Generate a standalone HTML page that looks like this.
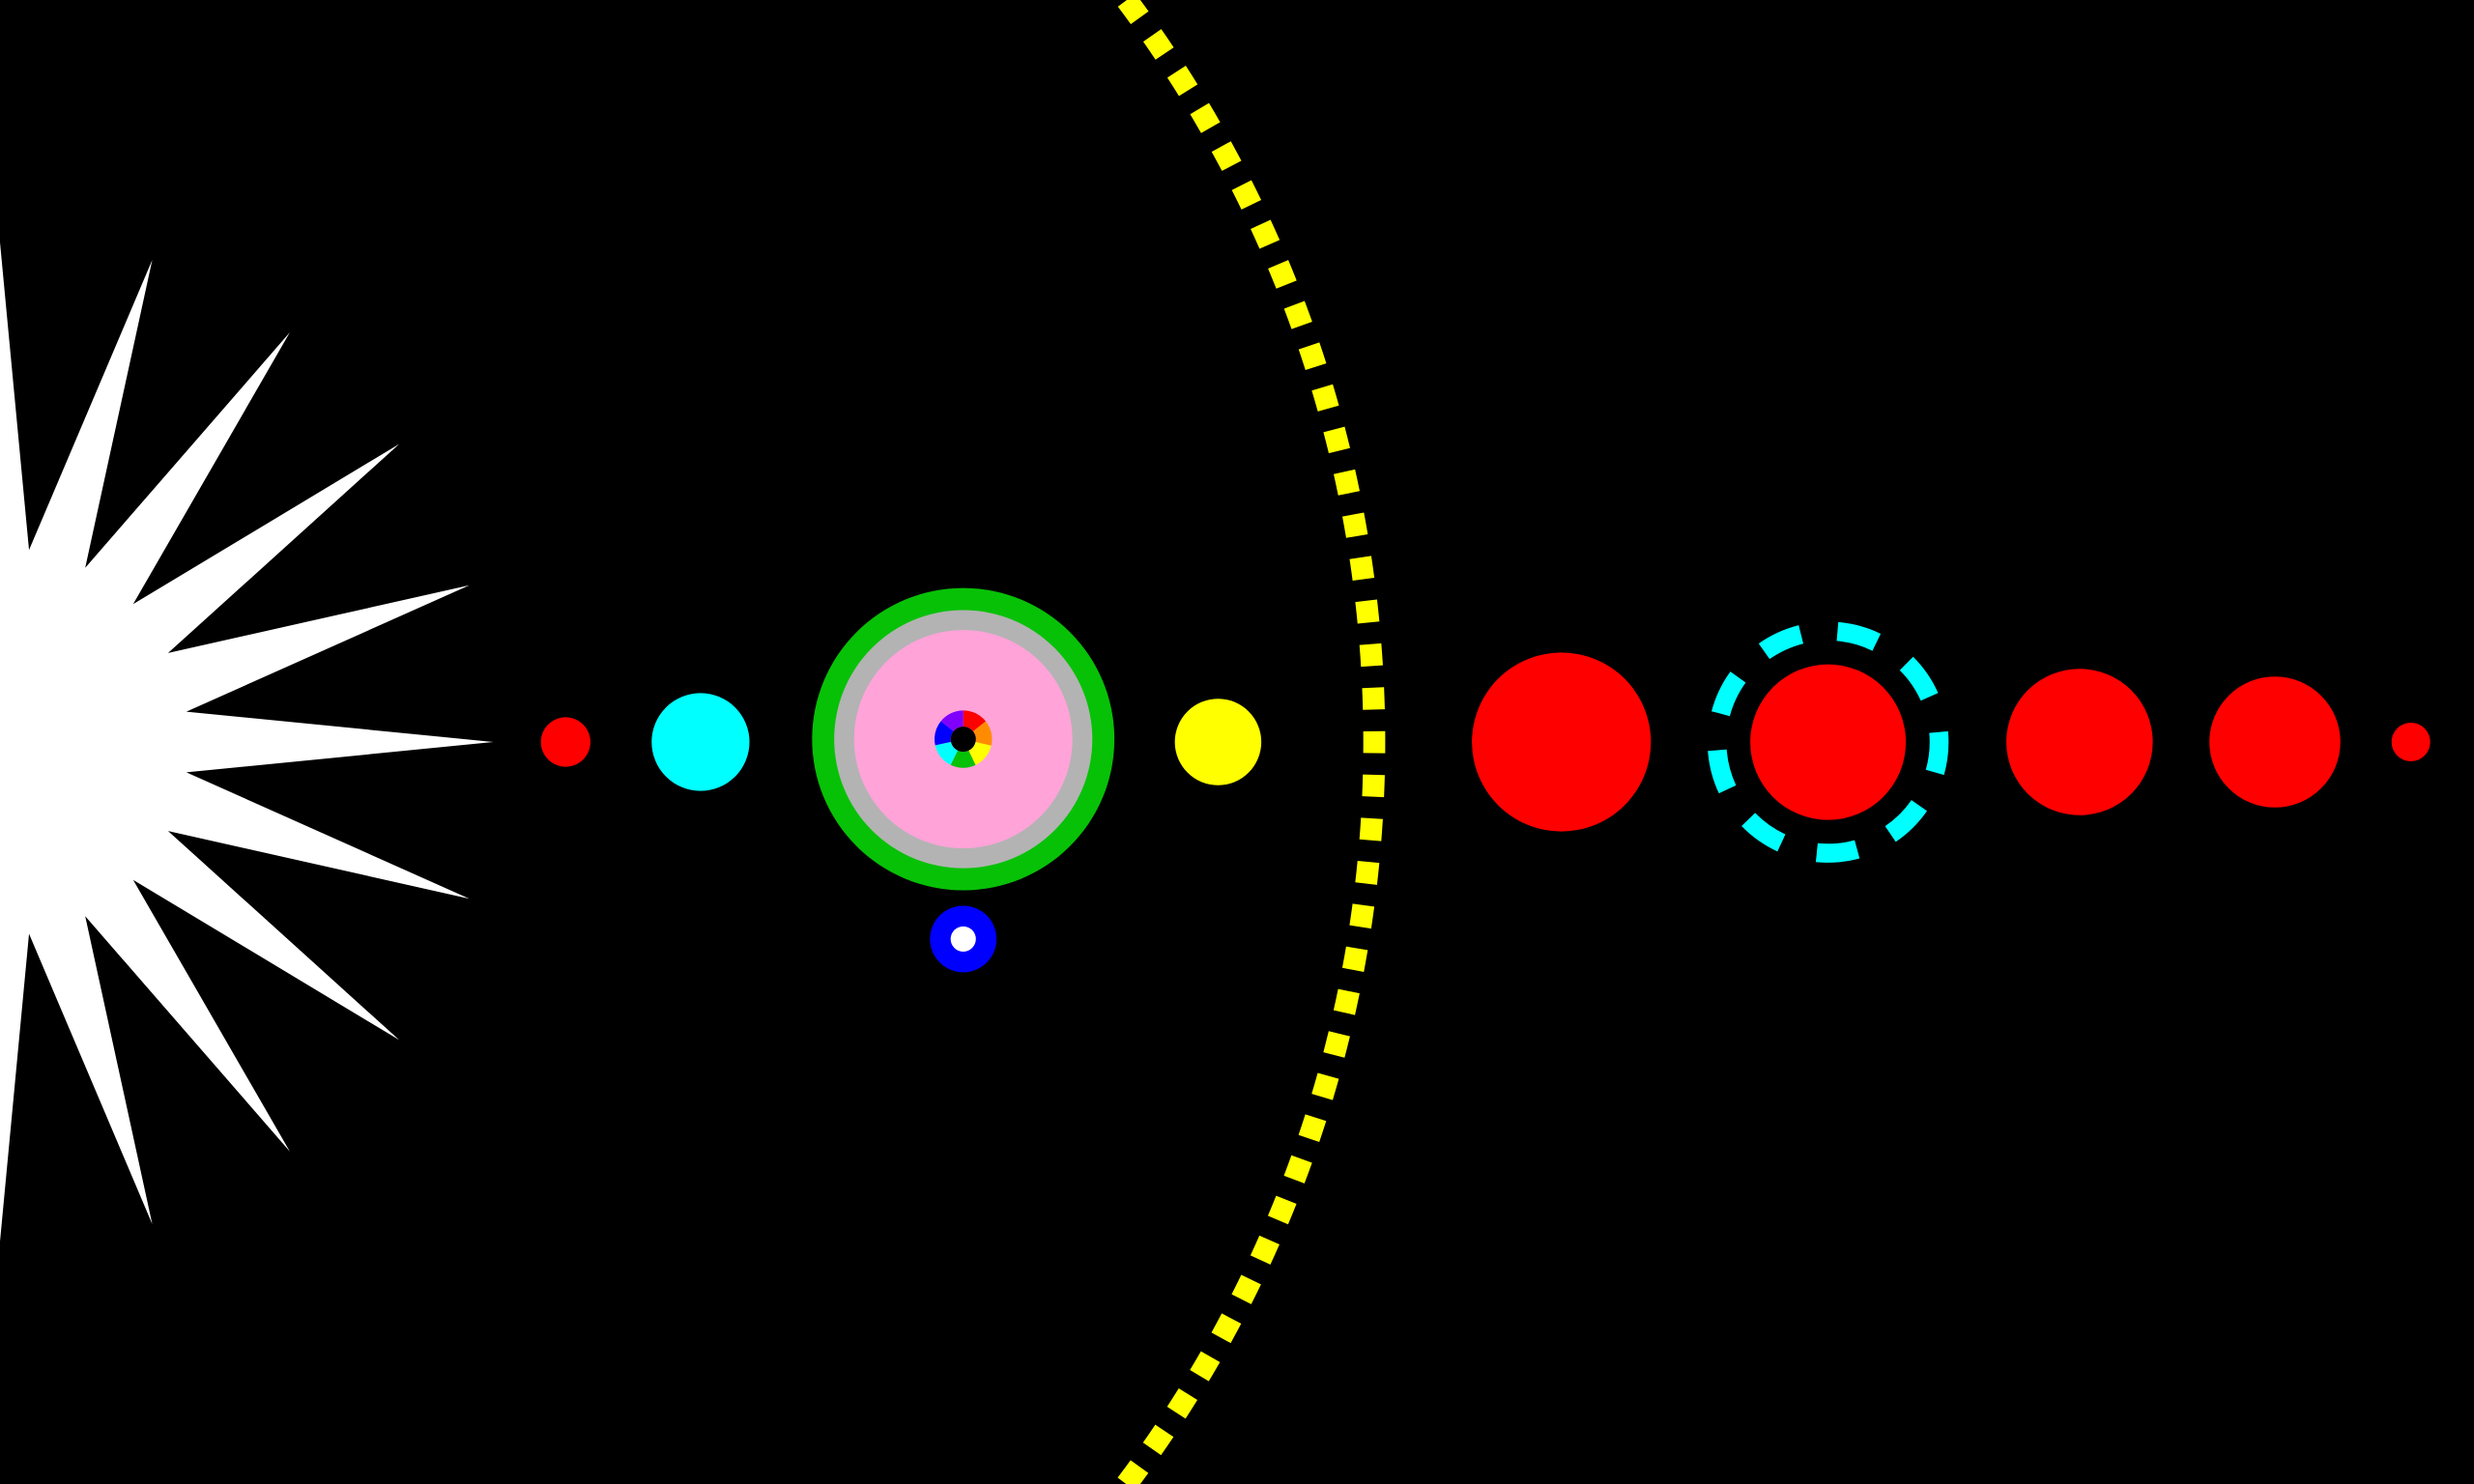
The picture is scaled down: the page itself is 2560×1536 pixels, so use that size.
<!DOCTYPE html>
<html><head><meta charset="utf-8"><style>html,body{margin:0;padding:0;background:#000;overflow:hidden;width:2560px;height:1536px}svg{display:block;position:absolute;left:0;top:0}</style></head>
<body>
<svg width="2560" height="1536" viewBox="0 0 1568 940.8" preserveAspectRatio="none" xmlns="http://www.w3.org/2000/svg">
<rect width="1568" height="940.8" fill="#000"/>
<polygon fill="#fff" points="0,153.7 18.4,348.7 96.5,164.8 54,360 183.7,210.7 84.4,383 253,281.5 106.5,414 297.5,371 118.1,451.2 312.8,470.4 118.1,489.6 297.5,569.8 106.5,526.8 253,659.3 84.4,557.8 183.7,730 54,580.8 96.5,776 18.4,592 0,787 "/>
<circle cx="358.5" cy="470.4" r="15.7" fill="#f00"/>
<circle cx="444" cy="470.4" r="31" fill="#0ff"/>
<circle cx="610.5" cy="468.6" r="95.8" fill="#07c107"/>
<circle cx="610.5" cy="468.6" r="81.8" fill="#b3b3b3"/>
<circle cx="610.5" cy="468.6" r="69.2" fill="#ffa3d9"/>
<g transform="rotate(-90 610.5 468.6)" fill="none" stroke-width="10.2">
<circle cx="610.5" cy="468.6" r="13.1" stroke="#f00" stroke-dasharray="11.76 70.55" stroke-dashoffset="0"/>
<circle cx="610.5" cy="468.6" r="13.1" stroke="#ff8c00" stroke-dasharray="11.76 70.55" stroke-dashoffset="-11.76"/>
<circle cx="610.5" cy="468.6" r="13.1" stroke="#ff0" stroke-dasharray="11.76 70.55" stroke-dashoffset="-23.52"/>
<circle cx="610.5" cy="468.6" r="13.1" stroke="#07c107" stroke-dasharray="11.76 70.55" stroke-dashoffset="-35.28"/>
<circle cx="610.5" cy="468.6" r="13.1" stroke="#0ff" stroke-dasharray="11.76 70.55" stroke-dashoffset="-47.04"/>
<circle cx="610.5" cy="468.6" r="13.1" stroke="#00f" stroke-dasharray="11.76 70.55" stroke-dashoffset="-58.8"/>
<circle cx="610.5" cy="468.6" r="13.1" stroke="#8000ff" stroke-dasharray="11.76 70.55" stroke-dashoffset="-70.56"/>
</g>
<circle cx="610.5" cy="468.6" r="8" fill="#000"/>
<circle cx="610.5" cy="595.3" r="21.1" fill="#00f"/>
<circle cx="610.5" cy="595.3" r="8" fill="#fff"/>
<circle cx="772" cy="470.4" r="27.4" fill="#ff0"/>
<circle cx="87.7" cy="470.4" r="783.3" fill="none" stroke="#ff0" stroke-width="13.9" stroke-dasharray="13.9 13.749" transform="rotate(-0.5 87.7 470.4)"/>
<circle cx="989.6" cy="470.4" r="56.7" fill="#f00"/>
<circle cx="1158.6" cy="470.5" r="49.3" fill="#f00"/>
<circle cx="1158.6" cy="470.5" r="70.4" fill="none" stroke="#0ff" stroke-width="12" stroke-dasharray="25.8 23.344" transform="rotate(-5.2 1158.6 470.5)"/>
<circle cx="1318" cy="470.4" r="46.4" fill="#f00"/>
<circle cx="1441.8" cy="470.4" r="41.5" fill="#f00"/>
<circle cx="1528" cy="470.4" r="12.25" fill="#f00"/>
</svg>
</body></html>
